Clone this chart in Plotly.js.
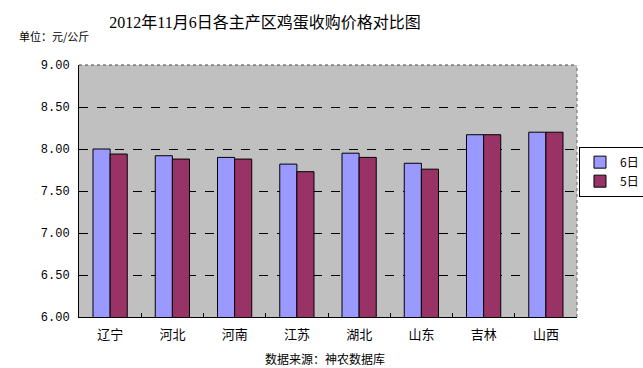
<!DOCTYPE html>
<html>
<head>
<meta charset="utf-8">
<script src="https://cdn.plot.ly/plotly-3.0.1.min.js"></script>
<style>html,body{margin:0;padding:0;background:#fff;}#chart{width:643px;height:368px;}</style>
</head>
<body>
<div id="chart"></div>
<script>
const categories = ["辽宁", "河北", "河南", "江苏", "湖北", "山东", "吉林", "山西"];
const day6 = [8.00, 7.92, 7.90, 7.82, 7.95, 7.83, 8.17, 8.20];
const day5 = [7.94, 7.88, 7.88, 7.73, 7.90, 7.76, 8.17, 8.20];
const seriesNames = ["6日", "5日"];
const yTicks = [6.0, 6.5, 7.0, 7.5, 8.0, 8.5, 9.0];
const yTickLabels = ["6.00", "6.50", "7.00", "7.50", "8.00", "8.50", "9.00"];

const cjk = "Noto Sans CJK SC, sans-serif";
const traces = [
  {type: "bar", name: seriesNames[0], x: categories, y: day6,
   marker: {color: "#9999FF", line: {color: "#000", width: 1}}},
  {type: "bar", name: seriesNames[1], x: categories, y: day5,
   marker: {color: "#993366", line: {color: "#000", width: 1}}}
];
const layout = {
  width: 643, height: 368,
  margin: {l: 79, r: 66, t: 65, b: 51, autoexpand: false},
  paper_bgcolor: "#fff", plot_bgcolor: "#C0C0C0",
  barmode: "group", bargap: 0.45, bargroupgap: 0,
  showlegend: true,
  title: {text: "2012年11月6日各主产区鸡蛋收购价格对比图", x: 265/643, xanchor: "center", y: 1 - 22/368, yanchor: "middle",
          font: {family: "Liberation Serif, Noto Sans CJK SC, serif", size: 16, color: "#000"}},
  xaxis: {type: "category", showline: true, linecolor: "#000", linewidth: 1,
          ticks: "inside", tickson: "boundaries", ticklen: 4, tickcolor: "#000",
          tickfont: {family: cjk, size: 13, color: "#000"}, showgrid: false, fixedrange: true,
          ticklabelstandoff: 5},
  yaxis: {range: [6, 9], tickvals: yTicks, ticktext: yTickLabels,
          showline: true, linecolor: "#000", linewidth: 1, ticks: "",
          showgrid: true, gridcolor: "#000", gridwidth: 1, griddash: "dash",
          zeroline: false,
          tickfont: {family: "Liberation Mono, monospace", size: 12, color: "#000"}, ticklabelstandoff: 6},
  legend: {x: 1.004, xanchor: "left", y: 0.676, yanchor: "top",
           bgcolor: "#fff", bordercolor: "#000", borderwidth: 1,
           font: {family: cjk, size: 12, color: "#000"}, itemwidth: 30, tracegroupgap: 6},
  shapes: [
    {type: "line", xref: "paper", yref: "paper", x0: 0, x1: 1, y0: 1, y1: 1,
     line: {color: "#444", width: 1, dash: "dot"}},
    {type: "line", xref: "paper", yref: "paper", x0: 1, x1: 1, y0: 0, y1: 1,
     line: {color: "#666", width: 1, dash: "dot"}}
  ],
  annotations: [
    {text: "单位：元/公斤", xref: "paper", yref: "paper", x: -62/498, xanchor: "left", y: 1 + 29/252, yanchor: "middle",
     showarrow: false, font: {family: cjk, size: 11, color: "#000"}},
    {text: "数据来源：神农数据库", xref: "paper", yref: "paper", x: (325-79)/498, xanchor: "center", y: -41/252, yanchor: "middle",
     showarrow: false, font: {family: cjk, size: 12, color: "#000"}}
  ]
};
Plotly.newPlot("chart", traces, layout, {displayModeBar: false, staticPlot: true});
</script>
</body>
</html>
